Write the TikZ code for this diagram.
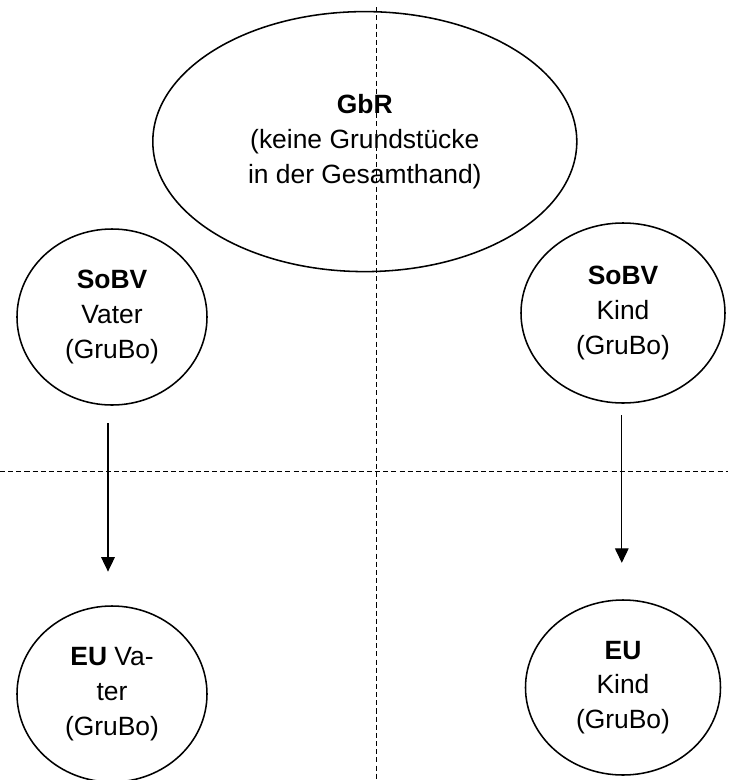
\documentclass[tikz,border=0pt]{standalone}
\usepackage{fontspec}
\setmainfont{Liberation Sans}
\usetikzlibrary{arrows.meta, positioning, shapes.geometric}

\begin{document}
\begin{tikzpicture}[
  party/.style = {draw, ellipse, line width=1.1pt, inner sep=0pt, outer sep=0pt, align=center,
                  font=\fontsize{18.8}{24.8}\selectfont},
  line/.style = {line width=0.8pt, -{Triangle[length=3.6mm, width=3.4mm]}},
  divider/.style = {line width=0.6pt, dash pattern=on 3.6pt off 2.2pt}
]
  \useasboundingbox (0,0) rectangle (18.2,-19.5);

  % Nodes
  \node[party, minimum width=10.6cm, minimum height=6.5cm] (gbr) at (9.12,-3.54)
    {\textbf{GbR}\\(keine Grundstücke\\in der Gesamthand)};
  \node[party, minimum width=4.75cm, minimum height=4.4cm] (sobvvater) at (2.8,-7.925)
    {\textbf{SoBV}\\Vater\\(GruBo)};
  \node[party, minimum width=5.1cm, minimum height=4.5cm] (sobvkind) at (15.575,-7.825)
    {\textbf{SoBV}\\Kind\\(GruBo)};
  \node[party, minimum width=4.75cm, minimum height=4.4cm, below=5.025cm of sobvvater] (euvater)
    {\textbf{EU} Va-\\ter\\(GruBo)};
  \node[party, minimum width=4.875cm, minimum height=4.375cm, below=4.925cm of sobvkind] (eukind)
    {\textbf{EU}\\Kind\\(GruBo)};

  % Dividers
  \coordinate (vtop) at (9.42,-0.18);
  \coordinate (vbottom) at (9.42,-19.5);
  \coordinate (hleft) at (0,-11.79);
  \coordinate (hright) at (18.2,-11.79);
  \draw[divider] (vtop) -- (vbottom);
  \draw[divider] (hleft) -- (hright);

  % Connections
  \draw[line] ([xshift=-0.1cm, yshift=-0.45cm]sobvvater.south) -- ([xshift=-0.1cm, yshift=0.86cm]euvater.north);
  \draw[line] ([xshift=-0.03cm, yshift=-0.3cm]sobvkind.south) -- ([xshift=-0.03cm, yshift=0.93cm]sobvkind.south |- eukind.north);

\end{tikzpicture}
\end{document}
